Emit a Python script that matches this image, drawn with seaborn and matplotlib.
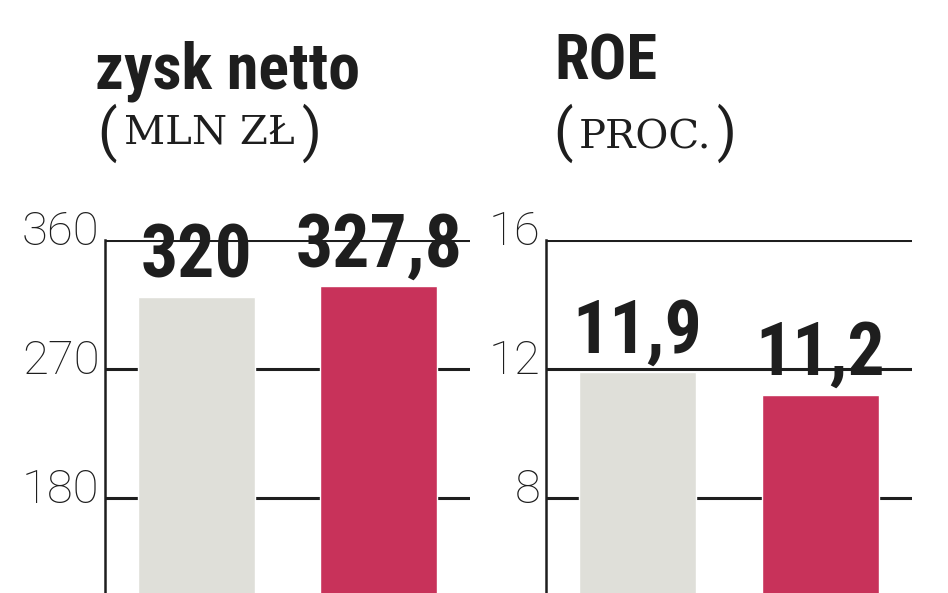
import pandas as pd
import matplotlib
matplotlib.use("Agg")
import matplotlib.pyplot as plt
import matplotlib.transforms as mtransforms
from matplotlib import font_manager as fm
import seaborn as sns

# data
periods = ["poprzednio", "obecnie"]
bar_colors = ["#dfdfd9", "#c8325a"]

zysk_values = [320, 327.8]
zysk_ticks = [90, 180, 270, 360]

roe_values = [11.9, 11.2]
roe_ticks = [4, 8, 12, 16]

sns.set_style("white")

names = {f.name for f in fm.fontManager.ttflist}
def pick(*cands):
    for c in cands:
        if c in names:
            return c
    return "DejaVu Sans"

cond = pick("Roboto Condensed", "Liberation Sans Narrow", "DejaVu Sans Condensed", "Roboto")
thin = pick("Roboto", "Lato", "DejaVu Sans")
serif = pick("DejaVu Serif", "Liberation Serif")
plt.rcParams["font.family"] = [cond, "DejaVu Sans"]

W, H = 948, 593
fig = plt.figure(figsize=(W / 100, H / 100), dpi=100)
ink = "#1e1e1e"

def px(x, y):
    # picture pixels -> figure fraction
    return x / W, 1 - y / H

def unit_text(x0, x1, y_base, word):
    # slab caps between tall parentheses
    for ch, x, ha in [("(", x0, "left"), (")", x1, "right")]:
        fig.text(*px(x, 133), ch, fontsize=41, fontweight="normal", color=ink,
                 family=[thin, "DejaVu Sans"], ha=ha, va="center")
    fig.text(*px((x0 + x1) / 2, y_base), word, fontsize=29, color=ink,
             family=[serif, "DejaVu Sans"], ha="center", va="baseline")

def panel(rect, values, ticks):
    ax = fig.add_axes(rect)
    df = pd.DataFrame({"okres": periods, "wartosc": values})
    sns.barplot(data=df, x="okres", y="wartosc", hue="okres", order=periods,
                palette=bar_colors, width=0.64, saturation=1, legend=False, ax=ax)
    ax.set_xlim(-0.5, 1.5)
    ax.set_ylim(ticks[0], ticks[-1])
    ax.set_yticks(ticks)
    ax.set_axisbelow(True)
    ax.yaxis.grid(True, color=ink, lw=2.2)
    ax.xaxis.grid(False)
    for s in ["top", "right", "bottom"]:
        ax.spines[s].set_visible(False)
    ax.spines["left"].set_color(ink)
    ax.spines["left"].set_linewidth(1.8)
    ax.set_xticks([])
    ax.set_xlabel("")
    ax.set_ylabel("")
    ax.tick_params(axis="y", length=0, pad=4)
    shift = mtransforms.ScaledTranslation(0, 9 / 72, fig.dpi_scale_trans)
    for lab in ax.get_yticklabels():
        lab.set_fontfamily(thin)
        lab.set_fontweight("light")
        lab.set_fontsize(34)
        lab.set_color(ink)
        lab.set_transform(lab.get_transform() + shift)
    labels = [f"{v:g}".replace(".", ",") for v in values]
    for cont, lab in zip(ax.containers, labels):
        ax.bar_label(cont, labels=[lab], padding=3.5, fontsize=53, fontweight="bold",
                     color=ink, family=[cond, "DejaVu Sans"], clip_on=False)
    return ax

panel([0.1108, -0.0573, 0.385, 0.6526], zysk_values, zysk_ticks)
panel([0.576, -0.0573, 0.386, 0.6526], roe_values, roe_ticks)

fig.text(*px(95, 88), "zysk netto", fontsize=46, fontweight="bold", color=ink,
         family=[cond, "DejaVu Sans"], ha="left", va="baseline")
fig.text(*px(554, 80), "ROE", fontsize=45, fontweight="bold", color=ink,
         family=[cond, "DejaVu Sans"], ha="left", va="baseline")
unit_text(97, 322, 143, "MLN ZŁ")
unit_text(553, 737, 148, "PROC.")

fig.savefig("out.png", dpi=100)
